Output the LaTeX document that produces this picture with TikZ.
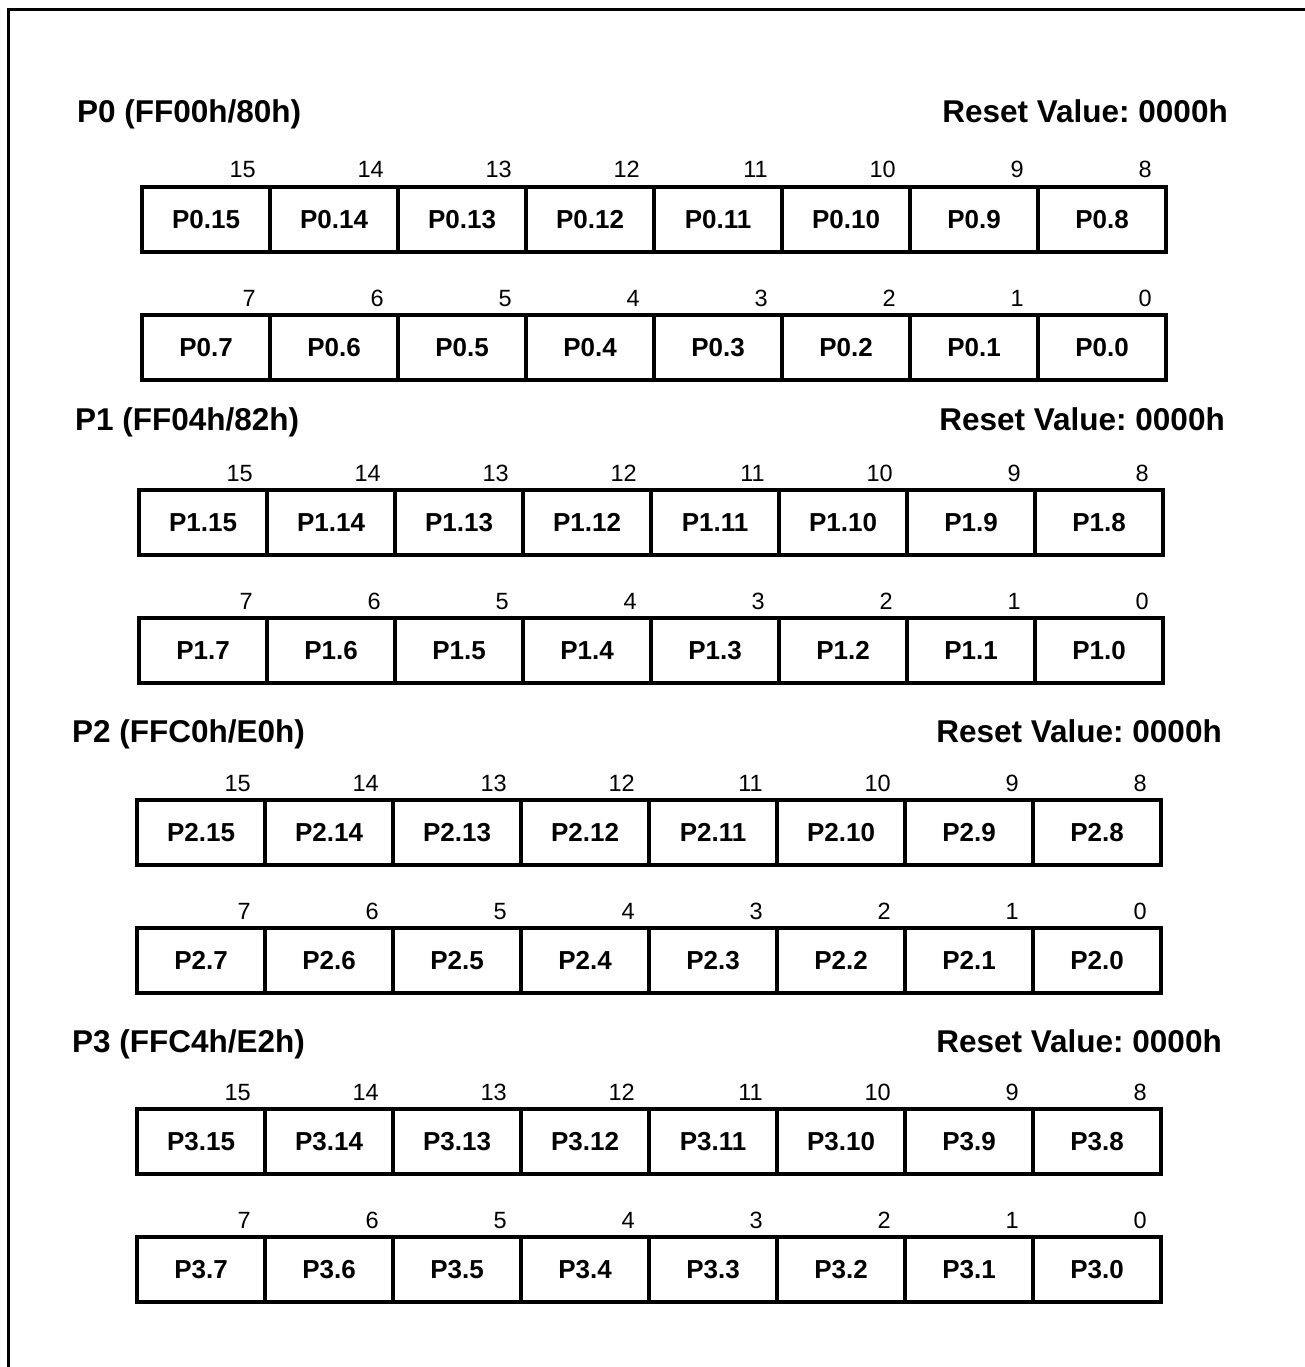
\documentclass[tikz,border=0pt]{standalone}
\usepackage{fontspec}
\setmainfont{Liberation Sans}
\frenchspacing
\begin{document}
\begin{tikzpicture}[x=1pt,y=-1pt,
  cellbox/.style={draw, line width=4pt, minimum width=128pt, minimum height=65pt, inner sep=0pt, font=\bfseries\fontsize{26}{30}\selectfont},
  bitnum/.style={anchor=base east, inner sep=0pt, font=\fontsize{23.5}{26}\selectfont},
  regtitle/.style={anchor=base west, inner sep=0pt, font=\bfseries\fontsize{31.5}{36}\selectfont},
  resetval/.style={anchor=base east, inner sep=0pt, font=\bfseries\fontsize{31.5}{36}\selectfont},
  frameline/.style={line width=3pt}]
\useasboundingbox (0,0) rectangle (1305,1367);
\clip (0,0) rectangle (1305,1367);
\fill[white] (0,0) rectangle (1305,1367);
\draw[frameline] (8.5,9.5) rectangle (1340,1400);
\foreach \r/\aa/\bb/\xl/\yt/\tb/\tx/\rx in {0/FF00h/80h/142/187/123/77/1228,
    1/FF04h/82h/139/490/430/75/1225,
    2/FFC0h/E0h/137/800/742/72/1222,
    3/FFC4h/E2h/137/1109/1052/72/1222} {
  \node[regtitle] (t\r) at (\tx,\tb) {P\r{} (\aa/\bb)};
  \node[resetval] (rv\r) at (\rx,\tb) {Reset Value:\ 0000h};
  \foreach \i in {0,...,7} {
    \pgfmathtruncatemacro\hb{15-\i}
    \pgfmathtruncatemacro\lb{7-\i}
    \node[cellbox] (c\r-\hb) at ({\xl+64+128*\i},{\yt+32.5}) {P\r.\hb};
    \node[bitnum] (n\r-\hb) at ({\xl+128*(\i+1)-14},{\yt-9}) {\hb};
    \node[cellbox] (c\r-\lb) at ({\xl+64+128*\i},{\yt+128+32.5}) {P\r.\lb};
    \node[bitnum] (n\r-\lb) at ({\xl+128*(\i+1)-14},{\yt+128-9}) {\lb};
  }
}
\end{tikzpicture}
\end{document}
